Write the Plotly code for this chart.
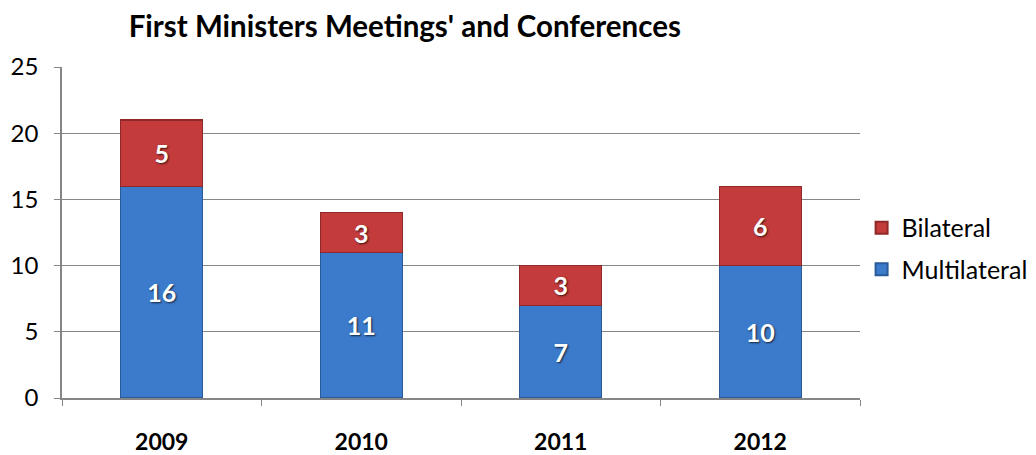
import plotly.graph_objects as go

years = ["2009", "2010", "2011", "2012"]
multilateral = [16, 11, 7, 10]
bilateral = [5, 3, 3, 6]
y_ticks = [0, 5, 10, 15, 20, 25]

font_family = "Lato, 'Open Sans', sans-serif"
label_font = dict(color="white", size=25, family=font_family, weight="bold",
                  shadow="1px 1px 2px rgba(0,0,0,0.7)")

fig = go.Figure()
fig.add_trace(go.Bar(
    x=years, y=multilateral, name="Multilateral", legendgroup="m", legendrank=2,
    marker=dict(color="#3C7ACB", line=dict(color="#2A5A98", width=1.2)),
    text=multilateral, textposition="inside", insidetextanchor="middle",
    textfont=label_font, width=0.41,
))
fig.add_trace(go.Bar(
    x=years, y=bilateral, name="Bilateral", legendgroup="b", legendrank=1,
    marker=dict(color="#C43B3B", line=dict(color="#8F2828", width=1.2)),
    text=bilateral, textposition="inside", insidetextanchor="middle",
    textfont=label_font, width=0.41,
))

fig.update_layout(
    barmode="stack",
    width=1036, height=455,
    margin=dict(l=54, r=184, t=59, b=65, autoexpand=False),
    paper_bgcolor="white", plot_bgcolor="white",
    title=dict(text="<b>First Ministers Meetings' and Conferences</b>",
               x=0.383, xanchor="center", y=0.96, yanchor="middle",
               font=dict(size=29.5, family=font_family, color="black")),
    legend=dict(traceorder="grouped", x=1.002, xanchor="left", y=0.452, yanchor="middle",
                font=dict(size=25, family=font_family, color="black"),
                tracegroupgap=6, itemsizing="constant"),
    xaxis=dict(showline=True, linecolor="#868686", linewidth=1.5, automargin=False,
               ticks="outside", tickson="boundaries", ticklen=6, tickcolor="#868686",
               tickfont=dict(size=23, family=font_family, color="black", weight="bold"),
               ticklabelstandoff=23, showgrid=False),
    yaxis=dict(range=[0, 25], tickvals=y_ticks, showline=True, linecolor="#868686", linewidth=1.5,
               automargin=False,
               ticks="outside", ticklen=6, tickcolor="#868686",
               gridcolor="#868686", gridwidth=1.3, zeroline=False,
               ticklabelstandoff=11,
               tickfont=dict(size=24, family=font_family, color="black")),
    uniformtext=dict(minsize=10),
)

fig.write_html("out.html")
